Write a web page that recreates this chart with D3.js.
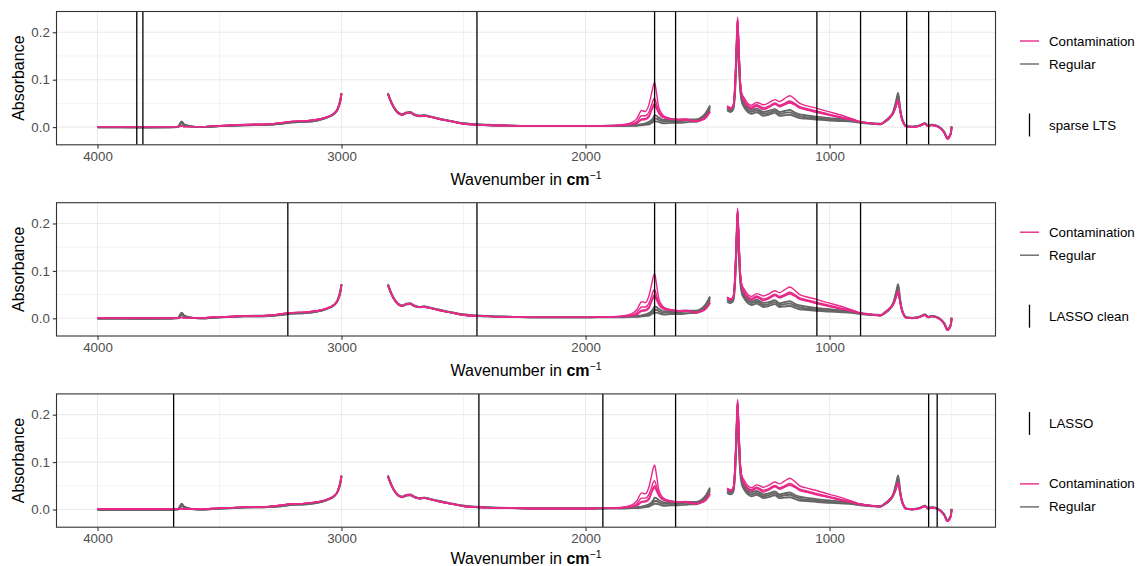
<!DOCTYPE html>
<html>
<head>
<meta charset="utf-8">
<script src="https://cdn.jsdelivr.net/npm/d3@7"></script>
<style>
  body { margin: 0; background: #fff; }
  text { font-family: "Liberation Sans", Arial, sans-serif; }
</style>
</head>
<body>
<svg id="chart" width="1138" height="566"></svg>
<script>
// wavenumber grid (cm^-1); null values below mark the cut-out regions
const wavenumbers = [
  4000, 3900, 3800, 3700, 3670, 3655, 3645, 3620, 3580, 3500, 3400, 3300, 3250, 3200, 3150, 3100, 3060, 3030, 3015, 3005, 3000,
  2900,
  2810, 2795, 2780, 2765, 2750, 2735, 2720, 2700, 2680, 2660, 2640, 2600, 2550, 2500, 2400, 2300, 2200, 2100, 2000, 1900,
  1850, 1810, 1790, 1770, 1755, 1740, 1730, 1722, 1717, 1710, 1700, 1690, 1675, 1650, 1620, 1590, 1570, 1550, 1530, 1510, 1500, 1490,
  1455,
  1420, 1405, 1395, 1388, 1382, 1377, 1372, 1366, 1360, 1350, 1335, 1320, 1300, 1285, 1272, 1250, 1224, 1205, 1185, 1163,
  1140, 1122, 1100, 1054, 1000, 958, 900, 873, 830, 791, 773, 755, 739, 727, 719, 712, 705, 695, 685, 660, 643, 625, 609, 596,
  582, 568, 547, 530, 517, 503, 500
];

// regular spectra (grey band)
const regularLow = [
  -0.001, -0.001, -0.001, -0.001, 0.000, 0.008, 0.004, 0.001, 0.000, 0.002, 0.004, 0.005, 0.007, 0.010, 0.011, 0.014, 0.020, 0.028, 0.038, 0.054, 0.070,
  null,
  0.070, 0.050, 0.036, 0.028, 0.026, 0.029, 0.030, 0.025, 0.023, 0.024, 0.022, 0.017, 0.012, 0.007, 0.004, 0.003, 0.002, 0.002, 0.002, 0.002,
  0.002, 0.003, 0.003, 0.004, 0.005, 0.006, 0.009, 0.011, 0.012, 0.012, 0.011, 0.009, 0.008, 0.009, 0.009, 0.010, 0.011, 0.011, 0.014, 0.021, 0.029, 0.039,
  null,
  0.035, 0.032, 0.037, 0.068, 0.135, 0.195, 0.135, 0.078, 0.054, 0.042, 0.032, 0.028, 0.031, 0.028, 0.024, 0.026, 0.030, 0.024, 0.025, 0.026,
  0.022, 0.019, 0.018, 0.016, 0.014, 0.013, 0.011, 0.009, 0.007, 0.006, 0.011, 0.018, 0.029, 0.046, 0.062, 0.038, 0.019, 0.006, 0.001, 0.000, 0.001, 0.004, 0.007, 0.002,
  0.004, 0.003, -0.002, -0.012, -0.024, -0.014, 0.000
];
const regularMid = [
  0.000, 0.000, -0.001, 0.000, 0.001, 0.011, 0.005, 0.002, 0.000, 0.002, 0.004, 0.005, 0.007, 0.010, 0.011, 0.014, 0.020, 0.028, 0.039, 0.056, 0.071,
  null,
  0.071, 0.051, 0.037, 0.029, 0.027, 0.030, 0.031, 0.026, 0.024, 0.025, 0.022, 0.018, 0.012, 0.008, 0.004, 0.003, 0.002, 0.002, 0.002, 0.003,
  0.003, 0.004, 0.004, 0.005, 0.007, 0.009, 0.012, 0.015, 0.018, 0.018, 0.015, 0.013, 0.012, 0.012, 0.012, 0.014, 0.014, 0.014, 0.017, 0.025, 0.033, 0.043,
  null,
  0.038, 0.035, 0.040, 0.074, 0.148, 0.212, 0.148, 0.084, 0.059, 0.046, 0.036, 0.032, 0.035, 0.032, 0.028, 0.030, 0.034, 0.028, 0.030, 0.031,
  0.026, 0.023, 0.021, 0.019, 0.016, 0.015, 0.012, 0.010, 0.008, 0.006, 0.012, 0.020, 0.031, 0.051, 0.067, 0.041, 0.021, 0.007, 0.002, 0.001, 0.002, 0.004, 0.008, 0.002,
  0.005, 0.004, -0.002, -0.011, -0.023, -0.013, 0.001
];
const regularHigh = [
  0.000, 0.000, 0.000, 0.000, 0.001, 0.012, 0.006, 0.002, 0.000, 0.002, 0.005, 0.006, 0.008, 0.011, 0.012, 0.015, 0.021, 0.029, 0.040, 0.058, 0.072,
  null,
  0.072, 0.052, 0.038, 0.030, 0.027, 0.031, 0.032, 0.027, 0.024, 0.025, 0.023, 0.018, 0.013, 0.008, 0.005, 0.003, 0.002, 0.002, 0.002, 0.003,
  0.003, 0.004, 0.005, 0.006, 0.008, 0.011, 0.015, 0.020, 0.025, 0.024, 0.020, 0.017, 0.015, 0.015, 0.014, 0.016, 0.016, 0.016, 0.019, 0.028, 0.036, 0.046,
  null,
  0.040, 0.037, 0.042, 0.080, 0.160, 0.225, 0.160, 0.090, 0.064, 0.050, 0.040, 0.036, 0.039, 0.036, 0.032, 0.034, 0.038, 0.032, 0.034, 0.036,
  0.030, 0.027, 0.025, 0.022, 0.019, 0.017, 0.013, 0.011, 0.008, 0.007, 0.013, 0.021, 0.033, 0.056, 0.072, 0.045, 0.023, 0.008, 0.002, 0.001, 0.002, 0.005, 0.008, 0.003,
  0.005, 0.004, -0.001, -0.010, -0.022, -0.012, 0.002
];

// contaminated spectra (pink)
const contamination1 = [
  0.001, 0.001, 0.001, 0.001, 0.001, 0.002, 0.001, 0.001, 0.001, 0.003, 0.005, 0.006, 0.009, 0.012, 0.013, 0.016, 0.021, 0.029, 0.039, 0.056, 0.071,
  null,
  0.070, 0.051, 0.037, 0.029, 0.026, 0.030, 0.031, 0.026, 0.023, 0.024, 0.022, 0.017, 0.012, 0.007, 0.004, 0.003, 0.002, 0.002, 0.002, 0.003,
  0.005, 0.010, 0.018, 0.035, 0.033, 0.048, 0.070, 0.088, 0.094, 0.075, 0.042, 0.030, 0.022, 0.018, 0.016, 0.017, 0.015, 0.013, 0.015, 0.020, 0.026, 0.034,
  null,
  0.045, 0.041, 0.046, 0.085, 0.165, 0.232, 0.175, 0.100, 0.072, 0.062, 0.050, 0.046, 0.052, 0.050, 0.047, 0.051, 0.058, 0.054, 0.060, 0.066,
  0.058, 0.050, 0.046, 0.040, 0.032, 0.026, 0.016, 0.011, 0.008, 0.006, 0.012, 0.020, 0.030, 0.045, 0.057, 0.038, 0.020, 0.006, 0.001, 0.000, 0.001, 0.004, 0.007, 0.002,
  0.004, 0.003, -0.002, -0.012, -0.025, -0.014, 0.000
];
const contamination2 = [
  0.001, 0.001, 0.001, 0.001, 0.001, 0.002, 0.001, 0.001, 0.001, 0.003, 0.005, 0.006, 0.009, 0.012, 0.013, 0.016, 0.021, 0.029, 0.039, 0.056, 0.071,
  null,
  0.070, 0.051, 0.037, 0.029, 0.026, 0.030, 0.031, 0.026, 0.023, 0.024, 0.022, 0.017, 0.012, 0.007, 0.004, 0.003, 0.002, 0.002, 0.002, 0.003,
  0.004, 0.007, 0.012, 0.024, 0.024, 0.032, 0.046, 0.058, 0.061, 0.050, 0.034, 0.026, 0.021, 0.018, 0.016, 0.016, 0.014, 0.012, 0.014, 0.019, 0.025, 0.033,
  null,
  0.044, 0.040, 0.045, 0.083, 0.160, 0.230, 0.170, 0.097, 0.070, 0.057, 0.046, 0.042, 0.047, 0.044, 0.041, 0.044, 0.051, 0.046, 0.050, 0.055,
  0.049, 0.043, 0.040, 0.034, 0.027, 0.022, 0.015, 0.011, 0.008, 0.006, 0.012, 0.020, 0.030, 0.045, 0.057, 0.038, 0.020, 0.006, 0.001, 0.000, 0.001, 0.004, 0.007, 0.002,
  0.004, 0.003, -0.002, -0.012, -0.025, -0.014, 0.000
];
const contamination3 = [
  0.001, 0.001, 0.001, 0.001, 0.001, 0.002, 0.001, 0.001, 0.001, 0.003, 0.005, 0.006, 0.009, 0.012, 0.013, 0.016, 0.021, 0.029, 0.039, 0.056, 0.071,
  null,
  0.070, 0.051, 0.037, 0.029, 0.026, 0.030, 0.031, 0.026, 0.023, 0.024, 0.022, 0.017, 0.012, 0.007, 0.004, 0.003, 0.002, 0.002, 0.002, 0.003,
  0.004, 0.006, 0.009, 0.017, 0.018, 0.024, 0.037, 0.047, 0.050, 0.043, 0.031, 0.024, 0.020, 0.017, 0.016, 0.016, 0.014, 0.012, 0.014, 0.019, 0.024, 0.032,
  null,
  0.043, 0.039, 0.044, 0.082, 0.158, 0.228, 0.168, 0.095, 0.068, 0.055, 0.044, 0.040, 0.045, 0.042, 0.038, 0.042, 0.049, 0.044, 0.048, 0.052,
  0.047, 0.041, 0.038, 0.032, 0.026, 0.021, 0.014, 0.011, 0.008, 0.006, 0.012, 0.020, 0.030, 0.045, 0.057, 0.038, 0.020, 0.006, 0.001, 0.000, 0.001, 0.004, 0.007, 0.002,
  0.004, 0.003, -0.002, -0.012, -0.025, -0.014, 0.000
];
const contamination4 = [
  0.001, 0.001, 0.001, 0.001, 0.001, 0.002, 0.001, 0.001, 0.001, 0.003, 0.005, 0.006, 0.009, 0.012, 0.013, 0.016, 0.021, 0.029, 0.039, 0.056, 0.071,
  null,
  0.070, 0.051, 0.037, 0.029, 0.026, 0.030, 0.031, 0.026, 0.023, 0.024, 0.022, 0.017, 0.012, 0.007, 0.004, 0.003, 0.002, 0.002, 0.002, 0.003,
  0.004, 0.006, 0.008, 0.015, 0.016, 0.021, 0.034, 0.043, 0.046, 0.040, 0.029, 0.023, 0.019, 0.017, 0.015, 0.015, 0.014, 0.012, 0.014, 0.018, 0.024, 0.032,
  null,
  0.043, 0.039, 0.044, 0.081, 0.156, 0.226, 0.166, 0.094, 0.067, 0.054, 0.043, 0.039, 0.044, 0.041, 0.037, 0.041, 0.048, 0.043, 0.047, 0.051,
  0.046, 0.040, 0.037, 0.031, 0.025, 0.020, 0.014, 0.011, 0.008, 0.006, 0.012, 0.020, 0.030, 0.045, 0.057, 0.038, 0.020, 0.006, 0.001, 0.000, 0.001, 0.004, 0.007, 0.002,
  0.004, 0.003, -0.002, -0.012, -0.025, -0.014, 0.000
];

// wavenumbers picked by each method
const selectedSparseLTS = [3839, 3814, 2445, 1717, 1631, 1052, 873, 684, 594];
const selectedLassoClean = [3220, 2445, 1717, 1631, 1052, 873];
const selectedLasso = [3688, 2437, 1929, 1631, 594, 559];

const groupNames = ['Contamination', 'Regular'];
const groupColors = ['#E7298A', '#666666'];

const xTicks = [4000, 3000, 2000, 1000];
const xMinorTicks = [3500, 2500, 1500, 500];
const yTicks = [0, 0.1, 0.2];
const yMinorTicks = [0.05, 0.15];

const panels = [
  { method: 'sparse LTS', selected: selectedSparseLTS, methodFirst: false },
  { method: 'LASSO clean', selected: selectedLassoClean, methodFirst: false },
  { method: 'LASSO', selected: selectedLasso, methodFirst: true }
];

const svg = d3.select('#chart');
const left = 56.5, right = 995.5;
const panelHeight = 133.3;
const panelStep = 191.2;

const xScale = d3.scaleLinear().domain([4168, 320]).range([left, right]);

const regularSeries = [regularLow, regularMid, regularHigh];
const contaminationSeries = [contamination1, contamination2, contamination3, contamination4];

function toPoints(values) {
  return wavenumbers.map((w, i) => ({ w: w, v: values[i] }));
}

function drawPanel(p, i) {
  const top = 11.5 + i * panelStep;
  const bottom = top + panelHeight;
  const yScale = d3.scaleLinear().domain([-0.0373, 0.2438]).range([bottom, top]);
  const g = svg.append('g');

  // grid
  g.selectAll('.xminor').data(xMinorTicks).enter().append('line')
    .attr('x1', d => xScale(d)).attr('x2', d => xScale(d))
    .attr('y1', top).attr('y2', bottom)
    .attr('stroke', '#EBEBEB').attr('stroke-width', 0.6);
  g.selectAll('.yminor').data(yMinorTicks).enter().append('line')
    .attr('x1', left).attr('x2', right)
    .attr('y1', d => yScale(d)).attr('y2', d => yScale(d))
    .attr('stroke', '#EBEBEB').attr('stroke-width', 0.6);
  g.selectAll('.xmajor').data(xTicks).enter().append('line')
    .attr('x1', d => xScale(d)).attr('x2', d => xScale(d))
    .attr('y1', top).attr('y2', bottom)
    .attr('stroke', '#EBEBEB').attr('stroke-width', 1.1);
  g.selectAll('.ymajor').data(yTicks).enter().append('line')
    .attr('x1', left).attr('x2', right)
    .attr('y1', d => yScale(d)).attr('y2', d => yScale(d))
    .attr('stroke', '#EBEBEB').attr('stroke-width', 1.1);

  // spectra
  const clipId = 'clip' + i;
  svg.append('clipPath').attr('id', clipId).append('rect')
    .attr('x', left).attr('y', top).attr('width', right - left).attr('height', panelHeight);
  const lines = g.append('g').attr('clip-path', `url(#${clipId})`);
  const line = d3.line()
    .defined(d => d.v !== null)
    .x(d => xScale(d.w))
    .y(d => yScale(d.v))
    .curve(d3.curveMonotoneX);

  regularSeries.forEach(s => {
    lines.append('path').datum(toPoints(s))
      .attr('fill', 'none').attr('stroke', groupColors[1])
      .attr('stroke-width', 1.9).attr('d', line);
  });
  contaminationSeries.forEach(s => {
    lines.append('path').datum(toPoints(s))
      .attr('fill', 'none').attr('stroke', groupColors[0])
      .attr('stroke-width', 1.4).attr('d', line);
  });

  // selected wavenumbers
  lines.selectAll('.sel').data(p.selected).enter().append('line')
    .attr('x1', d => xScale(d)).attr('x2', d => xScale(d))
    .attr('y1', top).attr('y2', bottom)
    .attr('stroke', '#000').attr('stroke-width', 1.3);

  // border
  g.append('rect').attr('x', left).attr('y', top)
    .attr('width', right - left).attr('height', panelHeight)
    .attr('fill', 'none').attr('stroke', '#333333').attr('stroke-width', 1.1);

  // axes
  const xAxis = g.append('g').attr('transform', `translate(0, ${bottom})`)
    .call(d3.axisBottom(xScale).tickValues(xTicks).tickSize(3.7).tickPadding(3).tickFormat(d3.format('d')));
  const yAxis = g.append('g').attr('transform', `translate(${left}, 0)`)
    .call(d3.axisLeft(yScale).tickValues(yTicks).tickSize(3.7).tickPadding(3).tickFormat(d3.format('.1f')));
  [xAxis, yAxis].forEach(a => {
    a.select('.domain').remove();
    a.selectAll('line').attr('stroke', '#333333').attr('stroke-width', 1.1);
    a.selectAll('text').attr('fill', '#4D4D4D').style('font-size', '13.3px')
      .style('font-family', '"Liberation Sans", Arial, sans-serif');
  });

  // titles
  g.append('text')
    .attr('transform', `translate(18.5, ${(top + bottom) / 2}) rotate(-90)`)
    .attr('text-anchor', 'middle').attr('dominant-baseline', 'central')
    .style('font-size', '16px').attr('fill', '#000').text('Absorbance');

  const xt = g.append('text')
    .attr('x', (left + right) / 2).attr('y', Math.min(bottom + 40, 563.5))
    .attr('text-anchor', 'middle').style('font-size', '16px').attr('fill', '#000');
  xt.append('tspan').text('Wavenumber in ');
  xt.append('tspan').style('font-weight', 'bold').text('cm');
  xt.append('tspan').attr('dy', -6).style('font-size', '10.5px').text('\u22121');

  // legends
  const colorLegendY = p.methodFirst ? top + 90 : top + 29.5;
  const methodLegendY = p.methodFirst ? top + 29.5 : top + 113.5;
  const lg = g.append('g');
  groupNames.forEach((name, k) => {
    const y = colorLegendY + k * 23;
    lg.append('line').attr('x1', 1020).attr('x2', 1039).attr('y1', y).attr('y2', y)
      .attr('stroke', groupColors[k]).attr('stroke-width', 1.4);
    lg.append('text').attr('x', 1049).attr('y', y).attr('dominant-baseline', 'central')
      .style('font-size', '13.3px').attr('fill', '#000').text(name);
  });
  lg.append('line').attr('x1', 1029.5).attr('x2', 1029.5)
    .attr('y1', methodLegendY - 11.5).attr('y2', methodLegendY + 11.5)
    .attr('stroke', '#000').attr('stroke-width', 1.3);
  lg.append('text').attr('x', 1049).attr('y', methodLegendY).attr('dominant-baseline', 'central')
    .style('font-size', '13.3px').attr('fill', '#000').text(p.method);
}

panels.forEach(drawPanel);
</script>
</body>
</html>
